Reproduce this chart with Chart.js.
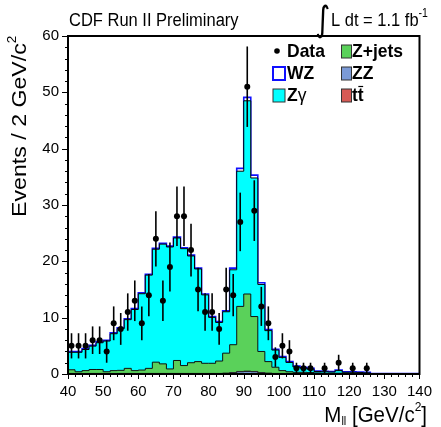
<!DOCTYPE html>
<html><head><meta charset="utf-8">
<script src="https://cdn.jsdelivr.net/npm/chart.js@4.4.0/dist/chart.umd.min.js"></script>
<style>html,body{margin:0;padding:0;background:#fff}#wrap{width:441px;height:427px;position:relative}</style>
</head><body><div id="wrap"><canvas id="c"></canvas></div>
<script>
// ---- DATA ----
const binEdges = [40,42,44,46,48,50,52,54,56,58,60,62,64,66,68,70,72,74,76,78,80,82,84,86,88,90,92,94,96,98,100,102,104,106,108,110,112,114,116,118,120,122,124,126,128,130,132,134,136,138];
const histUpper = 140;
const binWidth = 2;
const dataCounts = [5,5,5,6,6,4,9,8,11,13,9,14,24,13,19,28,28,22,15,11,11,8,15,14,27,51,29,12,9,3,5,4,1,1,1,0,1,0,2,0,1,0,1,0,0,0,0,0,0,0];
const zgamma = [3.1,3.45,3.75,4.15,4.75,5.45,6.55,7.4,8.65,10.85,13.55,16.55,20.05,21.25,21.65,21.75,20.75,18.95,16.45,12.15,8.15,6.85,7.35,13.3,24.0,34.3,24.6,11.9,5.5,3.05,2.35,1.65,0.95,0.75,0.6,0.25,0.26,0.21,0.46,0.18,0.18,0.15,0.11,0.02,0.01,0.01,0.01,0.01,0.01,0.01];
const zjets = [0.65,0.3,0.5,0.7,0.7,0.3,0.5,0.55,0.9,0.5,0.6,0.9,2.0,1.7,0.8,2.3,1.4,1.9,2.1,1.8,1.8,2.2,3.55,4.95,11.55,13.7,9.75,3.75,2.05,1.1,0.5,0.3,0.2,0.2,0.15,0.15,0.1,0.1,0.1,0.08,0.08,0.06,0.05,0.02,0.02,0.02,0.02,0.02,0.02,0.02];
const wz = [0.15,0.15,0.15,0.15,0.15,0.15,0.15,0.15,0.15,0.15,0.15,0.15,0.15,0.15,0.15,0.15,0.15,0.15,0.15,0.15,0.15,0.15,0.15,0.3,0.5,0.6,0.5,0.3,0.2,0.15,0.15,0.15,0.15,0.15,0.15,0.1,0.1,0.1,0.1,0.1,0.1,0.1,0.1,0.02,0.02,0.02,0.02,0.02,0.02,0.02];
const zz = [0.05,0.05,0.05,0.05,0.05,0.05,0.05,0.05,0.05,0.05,0.05,0.05,0.05,0.05,0.05,0.05,0.05,0.05,0.05,0.05,0.05,0.05,0.1,0.2,0.4,0.45,0.4,0.2,0.1,0.05,0.05,0.05,0.05,0.05,0.05,0.02,0.02,0.02,0.02,0.02,0.02,0.02,0.02,0.02,0.02,0.02,0.02,0.02,0.02,0.02];
const ttbar = [0.05,0.05,0.05,0.05,0.05,0.05,0.05,0.05,0.05,0.05,0.05,0.05,0.05,0.05,0.05,0.05,0.05,0.05,0.05,0.05,0.05,0.05,0.05,0.05,0.05,0.05,0.05,0.05,0.05,0.05,0.05,0.05,0.05,0.05,0.05,0.02,0.02,0.02,0.02,0.02,0.02,0.02,0.02,0.02,0.02,0.02,0.02,0.02,0.02,0.02];
const xTickLabels = [40,50,60,70,80,90,100,110,120,130,140];
const yTickLabels = [0,10,20,30,40,50,60];

// ---- COLORS ----
const C_ZG = '#00ffff', C_ZJ = '#5ad15a', C_ZZ = '#7b9ad6', C_TT = '#d65a55', C_WZ = '#1010ff';
const FONT = '"Liberation Sans", Arial, Helvetica, sans-serif';

function stepData(arr){
  const pts = binEdges.map((e,i)=>({x:e, y:arr[i]}));
  pts.push({x:histUpper, y:arr[arr.length-1]});
  return pts;
}
function histDS(label, arr, fill, border, bw){
  return {label, data: stepData(arr), stepped: true, fill: 'origin', backgroundColor: fill,
          borderColor: border, borderWidth: bw, pointRadius: 0, stack: 'mc'};
}

function drawRich(ctx, segs, x, y, o){
  o = Object.assign({align:'left', sx:1, sy:1.13, rot:0, color:'#000'}, o||{});
  ctx.save();
  ctx.translate(x, y);
  if (o.rot) ctx.rotate(o.rot);
  ctx.scale(o.sx, o.sy);
  ctx.fillStyle = o.color;
  ctx.textBaseline = 'alphabetic';
  ctx.textAlign = 'left';
  let total = 0;
  const ws = segs.map(s=>{ ctx.font = (s.bold?'bold ':'') + s.size + 'px ' + (s.family||FONT); const w = ctx.measureText(s.t).width; total += w; return w; });
  let cx = o.align==='right' ? -total : (o.align==='center' ? -total/2 : 0);
  segs.forEach((s,i)=>{ ctx.font = (s.bold?'bold ':'') + s.size + 'px ' + (s.family||FONT); ctx.fillText(s.t, cx, s.dy||0); cx += ws[i]; });
  ctx.restore();
  return total;
}

const decor = {
  id: 'decor',
  afterDatasetsDraw(chart){
    const ctx = chart.ctx, xs = chart.scales.x, ys = chart.scales.y;
    ctx.save();
    ctx.strokeStyle = '#000'; ctx.lineWidth = 1.6;
    dataCounts.forEach((v,i)=>{
      if (!v) return;
      const e = Math.sqrt(v);
      const px = xs.getPixelForValue(binEdges[i] + binWidth/2);
      ctx.beginPath();
      ctx.moveTo(px, ys.getPixelForValue(Math.max(0, v - e)));
      ctx.lineTo(px, ys.getPixelForValue(v + e));
      ctx.stroke();
    });
    ctx.restore();
  },
  afterDraw(chart){
    const ctx = chart.ctx, xs = chart.scales.x, ys = chart.scales.y, a = chart.chartArea;
    ctx.save();
    ctx.strokeStyle = '#000'; ctx.lineWidth = 1;
    for (let v = ys.min; v <= ys.max; v += 2){
      const py = Math.round(ys.getPixelForValue(v)) + 0.5;
      const len = (v % 10 === 0) ? 6 : 3;
      ctx.beginPath(); ctx.moveTo(a.left - len, py); ctx.lineTo(a.left, py); ctx.stroke();
    }
    for (let v = xs.min; v <= xs.max; v += 2){
      const px = Math.round(xs.getPixelForValue(v)) + 0.5;
      const len = (v % 10 === 0) ? 5 : 3;
      ctx.beginPath(); ctx.moveTo(px, a.bottom); ctx.lineTo(px, a.bottom + len); ctx.stroke();
    }
    ctx.lineWidth = 2;
    ctx.strokeRect(a.left, a.top, a.right - a.left, a.bottom - a.top);
    ctx.restore();

    // titles
    drawRich(ctx, [{t:'CDF Run II Preliminary', size:16.5}], 69, 26);
    drawRich(ctx, [{t:'\u222B', size:29, family:'"DejaVu Sans", sans-serif'}], 315, 31, {sy:1.2});
    drawRich(ctx, [{t:'L dt = 1.1 fb', size:16.5},{t:'-1', size:10.5, dy:-8}], 331, 26);
    drawRich(ctx, [{t:'M', size:20.5},{t:'ll', size:11, dy:3},{t:' [GeV/c', size:20.5},{t:'2', size:12, dy:-10},{t:']', size:20.5}], 427, 422, {align:'right', sy:1.12});
    drawRich(ctx, [{t:'Events / 2 GeV/c', size:20.5},{t:'2', size:12, dy:-10}], 26, 217, {rot:-Math.PI/2, sx:1.13, sy:1});

    // legend
    const LF = 17.5, LSY = 1.05;
    ctx.save();
    ctx.fillStyle = '#000';
    ctx.beginPath(); ctx.arc(277, 51, 2.8, 0, Math.PI*2); ctx.fill();
    ctx.restore();
    drawRich(ctx, [{t:'Data', size:LF, bold:true}], 287, 57, {sy:LSY});
    const box = (x,y,w,h,fill,stroke,lw)=>{ ctx.save(); ctx.fillStyle = fill; ctx.fillRect(x,y,w,h); ctx.strokeStyle = stroke; ctx.lineWidth = lw; ctx.strokeRect(x,y,w,h); ctx.restore(); };
    box(273, 67, 12, 13, '#fff', C_WZ, 2);
    drawRich(ctx, [{t:'WZ', size:LF, bold:true}], 287, 79, {sy:LSY});
    box(273, 89, 12, 13, C_ZG, '#333', 1);
    drawRich(ctx, [{t:'Z', size:LF, bold:true},{t:'\u03B3', size:LF}], 287, 101, {sy:LSY});
    box(341.5, 45, 10, 13, C_ZJ, '#333', 1);
    drawRich(ctx, [{t:'Z+jets', size:LF, bold:true}], 352, 57, {sy:LSY});
    box(341.5, 67, 10, 13, C_ZZ, '#333', 1);
    drawRich(ctx, [{t:'ZZ', size:LF, bold:true}], 352, 79, {sy:LSY});
    box(341.5, 89, 10, 13, C_TT, '#333', 1);
    drawRich(ctx, [{t:'tt', size:LF, bold:true}], 352, 101, {sy:LSY});
    ctx.save();
    ctx.font = 'bold ' + LF + 'px ' + FONT;
    const tw = ctx.measureText('t').width;
    ctx.strokeStyle = '#000'; ctx.lineWidth = 1.2;
    ctx.beginPath(); ctx.moveTo(352 + tw + 0.5, 86.5); ctx.lineTo(352 + 2*tw - 0.5, 86.5); ctx.stroke();
    ctx.restore();
  }
};

const dataPts = binEdges.map((e,i)=>({x: e + binWidth/2, y: dataCounts[i] > 0 ? dataCounts[i] : null}));

new Chart(document.getElementById('c'), {
  type: 'line',
  data: {
    datasets: [
      histDS('ZZ', zz, C_ZZ, '#222', 1),
      histDS('tt', ttbar, C_TT, '#222', 1),
      histDS('Z+jets', zjets, C_ZJ, '#111', 1),
      histDS('Z\u03B3', zgamma, C_ZG, '#000', 1),
      histDS('WZ', wz, '#ffffff', C_WZ, 1.6),
      {label:'Data', type:'scatter', data: dataPts, showLine:false, pointRadius:3, pointHoverRadius:3,
       pointBackgroundColor:'#000', pointBorderColor:'#000', pointBorderWidth:0, stack:'data', order:-1}
    ]
  },
  options: {
    responsive: true, maintainAspectRatio: false, animation: false, devicePixelRatio: 1,
    layout: {padding: {top: 36, right: 16, left: 0, bottom: 0}},
    plugins: {legend: {display:false}, tooltip: {enabled:false}, title:{display:false}},
    scales: {
      x: {type:'linear', min: xTickLabels[0], max: xTickLabels[xTickLabels.length-1], stacked:false,
          grid:{display:false, drawTicks:false}, border:{display:false},
          ticks:{stepSize:10, autoSkip:false, maxRotation:0, padding:9, color:'#000', font:{family:FONT, size:15},
                 callback:(v)=> xTickLabels.includes(v) ? String(v) : ''},
          afterFit:(s)=>{ s.height = 53; }},
      y: {type:'linear', min: yTickLabels[0], max: yTickLabels[yTickLabels.length-1], stacked:true,
          grid:{display:false, drawTicks:false}, border:{display:false},
          ticks:{stepSize:10, padding:9, color:'#000', font:{family:FONT, size:15},
                 callback:(v)=> yTickLabels.includes(v) ? String(v) : ''},
          afterFit:(s)=>{ s.width = 68; }}
    }
  },
  plugins: [decor]
});
</script></body></html>
